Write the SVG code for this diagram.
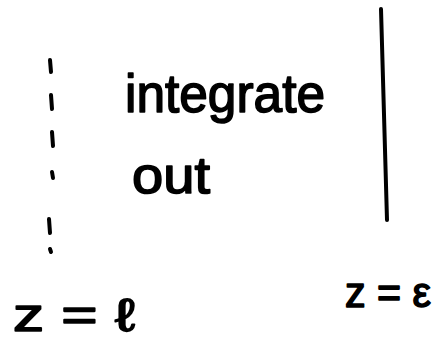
<svg xmlns="http://www.w3.org/2000/svg" width="442" height="341" viewBox="0 0 442 341">
<style>
.t{font-family:"Liberation Sans",Arial,sans-serif;fill:#000;stroke:#000;stroke-width:1.6;stroke-linejoin:round;}
.ln{stroke:#000;stroke-width:4;stroke-linecap:round;fill:none;}
</style>
<rect width="442" height="341" fill="#fff"/>
<g id="connectors">
<path class="ln" d="M381,9 L387,220"/>
<path class="ln" d="M50,60 L51,72 M51,95 L52,109 M52,132 L53,146 M52,172 L53,178 M49,219 L50,233 M50,249 L51,252"/>
</g>
<g id="label-integrate"><text class="t" x="125" y="112" font-size="54" textLength="200" lengthAdjust="spacingAndGlyphs">integrate</text></g>
<g id="label-out"><text class="t" x="132" y="193" font-size="52" textLength="78" lengthAdjust="spacingAndGlyphs">out</text></g>
<g id="label-zl"><text class="t" x="13" y="331" font-size="46" textLength="122" lengthAdjust="spacingAndGlyphs">z = ℓ</text></g>
<g id="label-ze"><text class="t" x="345" y="307" font-size="42" textLength="86" lengthAdjust="spacingAndGlyphs">z = ε</text></g>
</svg>
